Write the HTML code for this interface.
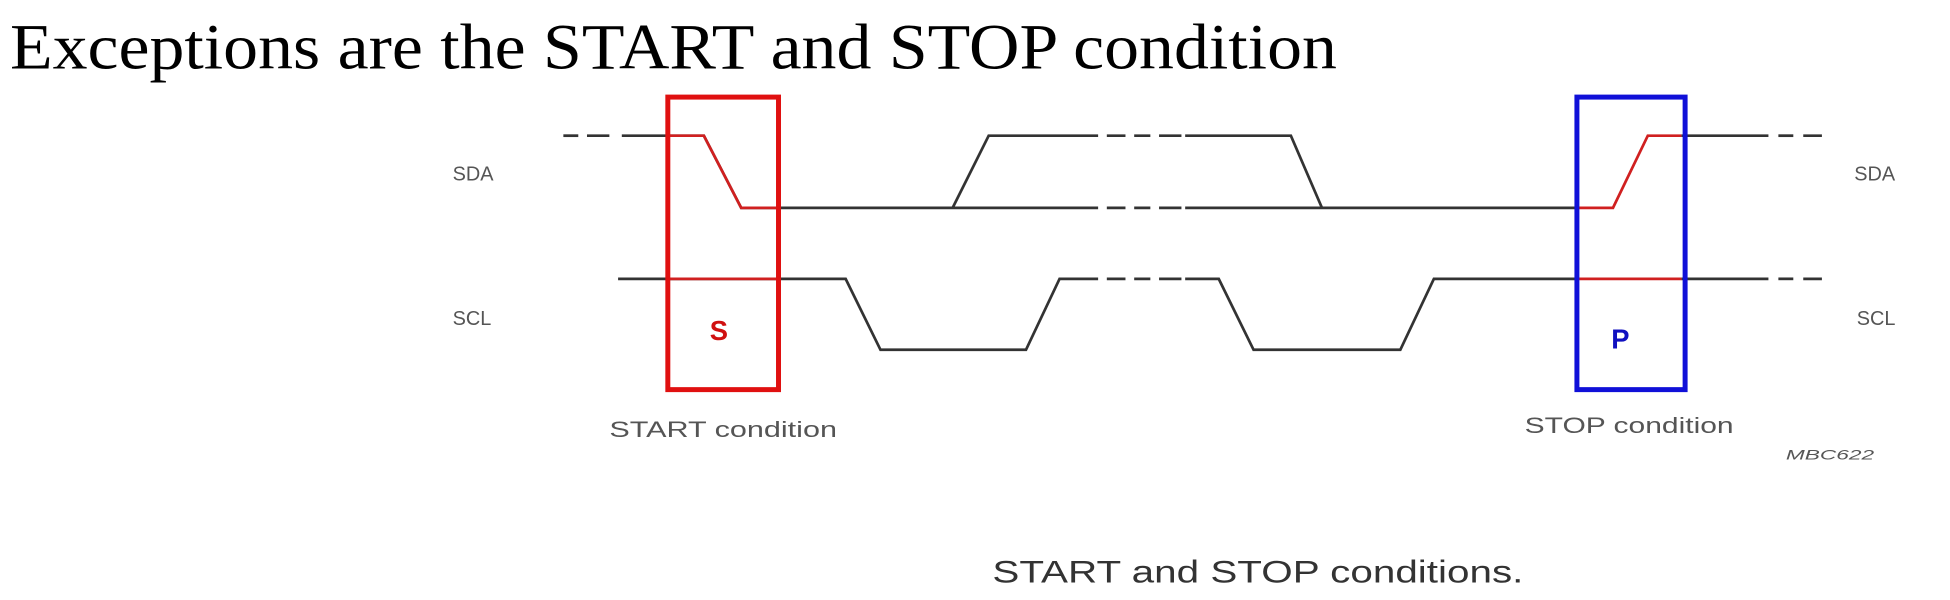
<!DOCTYPE html>
<html><head><meta charset="utf-8"><style>
html,body{margin:0;padding:0;background:#fff;width:1950px;height:600px;overflow:hidden}
svg{display:block}
</style></head><body>
<svg id="chart" width="1950" height="600" viewBox="0 0 1568 482" preserveAspectRatio="none" xmlns="http://www.w3.org/2000/svg">
<text x="8" y="55" font-family="Liberation Serif, serif" font-size="52" textLength="1067" lengthAdjust="spacingAndGlyphs" fill="#000">Exceptions are the START and STOP condition</text>
<g id="waves" fill="none" stroke-width="2.2"></g>
<rect x="537" y="78" width="89" height="235" fill="none" stroke="#e01010" stroke-width="4"/>
<rect x="1268" y="78" width="87" height="235" fill="none" stroke="#1010d8" stroke-width="4"/>
<g font-family="Liberation Sans, sans-serif" fill="#555" font-size="16">
<text x="364" y="145">SDA</text>
<text x="364" y="261">SCL</text>
<text x="1491" y="145">SDA</text>
<text x="1493" y="261">SCL</text>
<text x="490" y="351" font-size="18" textLength="183" lengthAdjust="spacingAndGlyphs">START condition</text>
<text x="1226" y="348" font-size="18" textLength="168" lengthAdjust="spacingAndGlyphs">STOP condition</text>
<text x="1436" y="369" font-size="11" font-style="italic" textLength="71" lengthAdjust="spacingAndGlyphs">MBC622</text>
<text x="798" y="468" font-size="25" fill="#333" textLength="427" lengthAdjust="spacingAndGlyphs">START and STOP conditions.</text>
</g>
<text x="578" y="273" font-family="Liberation Sans, sans-serif" font-weight="bold" font-size="22" fill="#d01010" text-anchor="middle">S</text>
<text x="1303" y="280" font-family="Liberation Sans, sans-serif" font-weight="bold" font-size="22" fill="#1010c0" text-anchor="middle">P</text>
</svg>
<script>
// SDA / SCL levels
const sdaHigh = 109, sdaLow = 167, sclHigh = 224, sclLow = 281;
// waveform segments: [x, level(1=high,0=low)] points
const sdaMain = [[500,1],[566,1],[596,0],[883,0]];
const sdaMain2 = [[953,0],[1268,0]];
const sdaUpper = [[766,0],[795,1],[883,1]];
const sdaUpper2 = [[953,1],[1038,1],[1063,0]];
const sdaStop = [[1268,0],[1297,0],[1325,1],[1352,1]];
const sdaEnd = [[1352,1],[1422,1]];
const sclMain = [[497,1],[680,1],[708,0],[825,0],[852,1],[883,1]];
const sclMain2 = [[953,1],[980,1],[1008,0],[1126,0],[1153,1],[1268,1]];
const sclStart = [[537,1],[626,1]];
const sclStop = [[1268,1],[1352,1]];
const sclEnd = [[1352,1],[1422,1]];
const sdaStartRed = [[537,1],[566,1],[596,0],[626,0]];
const dashesSda = [[453,465,1],[472,490,1],[890,905,1],[912,925,1],[932,950,1],[890,905,0],[912,925,0],[932,950,0],[1430,1442,1],[1450,1465,1]];
const dashesScl = [[890,905,1],[912,925,1],[932,950,1],[1430,1442,1],[1450,1465,1]];
const g = document.getElementById('waves');
const ns = 'http://www.w3.org/2000/svg';
function y(level, hi, lo){ return level ? hi : lo; }
function line(pts, hi, lo, color, name){
  const p = document.createElementNS(ns,'polyline');
  p.setAttribute('points', pts.map(q => q[0] + ',' + y(q[1],hi,lo)).join(' '));
  p.setAttribute('stroke', color);
  
  
  g.appendChild(p);
}
line(sdaMain, sdaHigh, sdaLow, '#333', 'sda-line');
line(sdaMain2, sdaHigh, sdaLow, '#333', 'sda-line');
line(sdaUpper, sdaHigh, sdaLow, '#333', 'sda-line');
line(sdaUpper2, sdaHigh, sdaLow, '#333', 'sda-line');
line(sdaEnd, sdaHigh, sdaLow, '#333', 'sda-line');
line(sclMain, sclHigh, sclLow, '#333', 'scl-line');
line(sclMain2, sclHigh, sclLow, '#333', 'scl-line');
line(sclEnd, sclHigh, sclLow, '#333', 'scl-line');
line(sdaStartRed, sdaHigh, sdaLow, '#d02020', 'sda-start-edge');
line(sdaStop, sdaHigh, sdaLow, '#d02020', 'sda-stop-edge');
line(sclStart, sclHigh, sclLow, '#d02020', 'scl-start-high');
line(sclStop, sclHigh, sclLow, '#d02020', 'scl-stop-high');
dashesSda.forEach(d => line([[d[0],d[2]],[d[1],d[2]]], sdaHigh, sdaLow, '#333', 'sda-dash'));
dashesScl.forEach(d => line([[d[0],d[2]],[d[1],d[2]]], sclHigh, sclLow, '#333', 'scl-dash'));
</script>
</body></html>
